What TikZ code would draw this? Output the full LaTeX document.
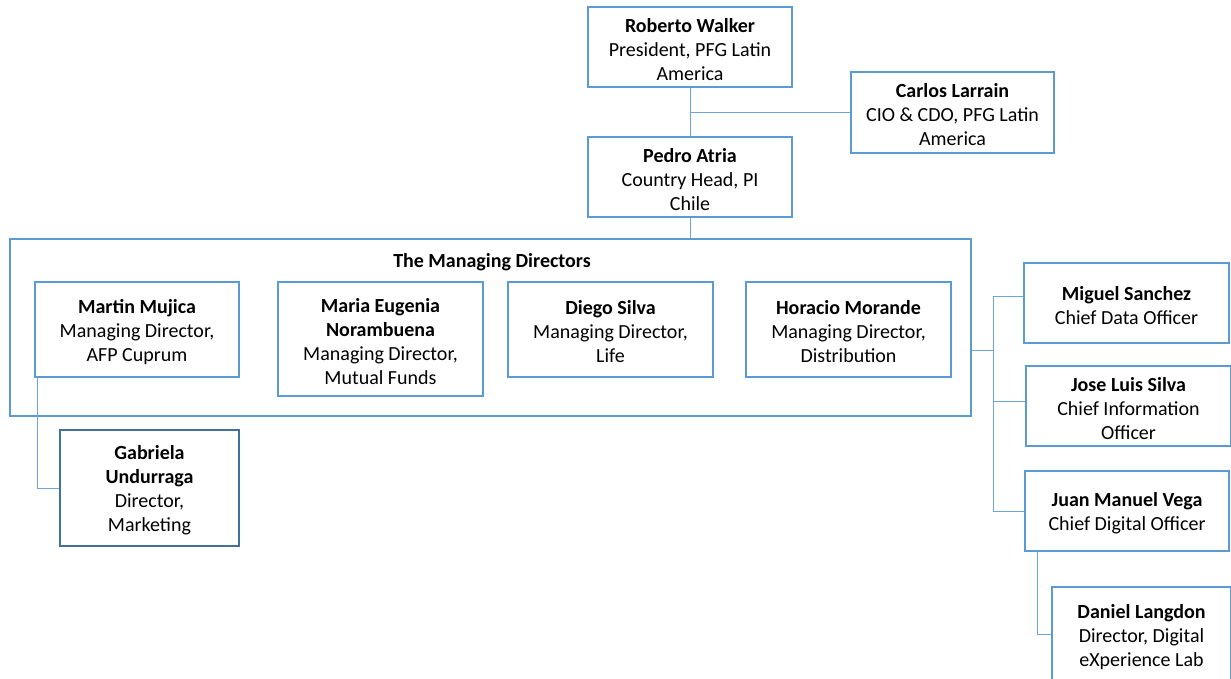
\documentclass[tikz,border=0pt]{standalone}
\usepackage{fontspec}
\setmainfont{Carlito}
\definecolor{bd}{HTML}{5B9BD5}
\definecolor{bdd}{HTML}{41719C}
\definecolor{ln}{HTML}{6FA6DA}
\newcommand{\nm}[1]{\rule{0pt}{19pt}\textbf{#1}}
\begin{document}
\begin{tikzpicture}[x=1pt,y=-1pt,
  box/.style={draw=bd,line width=1.5pt,inner sep=0pt,align=center,font=\fontsize{20}{24}\selectfont},
  conn/.style={draw=ln,line width=1pt}]
\useasboundingbox[fill=white] (0,0) rectangle (1231,679);
% top
\node[box,minimum width=204,minimum height=80] (rw) at (690,47) {\nm{Roberto Walker}\\President, PFG Latin\\America};
\node[box,minimum width=203,minimum height=81] (cl) at (952.5,112.5) {\nm{Carlos Larrain}\\CIO \& CDO, PFG Latin\\America};
\node[box,minimum width=204,minimum height=80] (pa) at (690,177) {\nm{Pedro Atria}\\Country Head, PI\\Chile};
% managing directors group
\node[draw=bd,line width=1.5pt,inner sep=0pt,minimum width=961,minimum height=177] (md) at (490.5,327.5) {};
\node[font=\fontsize{20}{24}\selectfont\bfseries,inner sep=0pt] (mdt) at (492,262) {The Managing Directors};
\node[box,minimum width=204,minimum height=95] (mm) at (137,329.5) {\nm{Martin Mujica}\\Managing Director,\\AFP Cuprum};
\node[box,minimum width=205,minimum height=114] (me) at (380.5,339) {\nm{Maria Eugenia}\\\textbf{Norambuena}\\Managing Director,\\Mutual Funds};
\node[box,minimum width=205,minimum height=95] (ds) at (610.5,329.5) {\nm{Diego Silva}\\Managing Director,\\Life};
\node[box,minimum width=205,minimum height=95] (hm) at (848.5,329.5) {\nm{Horacio Morande}\\Managing Director,\\Distribution};
\node[box,draw=bdd,minimum width=179,minimum height=116] (gu) at (149.5,488) {\nm{Gabriela}\\\textbf{Undurraga}\\Director,\\Marketing};
% right column
\node[box,minimum width=205,minimum height=80] (ms) at (1126.5,303) {\nm{Miguel Sanchez}\\Chief Data Officer};
\node[box,minimum width=205,minimum height=80] (jl) at (1128.5,406) {\nm{Jose Luis Silva}\\Chief Information\\Officer};
\node[box,minimum width=204,minimum height=80] (jv) at (1127,511) {\nm{Juan Manuel Vega}\\Chief Digital Officer};
\node[box,minimum width=179,minimum height=95] (dl) at (1141.5,634.5) {\nm{Daniel Langdon}\\Director, Digital\\eXperience Lab};
% connectors
\draw[conn] (rw.south) -- (pa.north);
\draw[conn] (cl.west) -- (rw.south |- cl.west);
\draw[conn] (pa.south) -- (pa.south |- md.north);
\draw[conn] ([xshift=3]mm.south west) |- (gu.west);
\coordinate (bus) at (993,350);
\coordinate (tms) at (993,296);
\coordinate (tjl) at (993,401);
\draw[conn] (md.east |- bus) -- (bus);
\draw[conn] (tms) -- (bus |- jv.west);
\draw[conn] (tms) -- (ms.west |- tms);
\draw[conn] (tjl) -- (jl.west |- tjl);
\draw[conn] (bus |- jv.west) -- (jv.west);
\draw[conn] ([xshift=13]jv.south west) |- (dl.west);
\end{tikzpicture}
\end{document}
